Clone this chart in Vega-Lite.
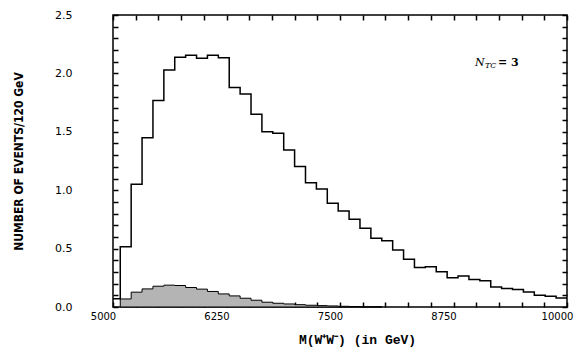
{
  "$schema": "https://vega.github.io/schema/vega-lite/v6.json",
  "width": 454,
  "height": 292,
  "autosize": {"type": "none"},
  "padding": {"left": 113, "top": 15, "right": 12, "bottom": 49},
  "background": "white",
  "config": {
    "view": {"stroke": "black", "strokeWidth": 1.5},
    "axis": {"domain": false, "grid": false, "ticks": true, "tickColor": "black", "tickOpacity": 1, "tickWidth": 1.5, "labelColor": "black", "titleColor": "black", "labelFlush": false, "zindex": 2}
  },
  "datasets": {
    "main": [
      {"m": 5000, "n": 0.07},
      {"m": 5080, "n": 0.516},
      {"m": 5200, "n": 1.051},
      {"m": 5320, "n": 1.45},
      {"m": 5440, "n": 1.767},
      {"m": 5560, "n": 2.029},
      {"m": 5680, "n": 2.138},
      {"m": 5800, "n": 2.155},
      {"m": 5920, "n": 2.129},
      {"m": 6040, "n": 2.155},
      {"m": 6160, "n": 2.135},
      {"m": 6280, "n": 1.88},
      {"m": 6400, "n": 1.824},
      {"m": 6520, "n": 1.65},
      {"m": 6640, "n": 1.501},
      {"m": 6760, "n": 1.488},
      {"m": 6880, "n": 1.345},
      {"m": 7000, "n": 1.202},
      {"m": 7120, "n": 1.064},
      {"m": 7240, "n": 1.011},
      {"m": 7360, "n": 0.889},
      {"m": 7480, "n": 0.822},
      {"m": 7600, "n": 0.751},
      {"m": 7720, "n": 0.674},
      {"m": 7840, "n": 0.588},
      {"m": 7960, "n": 0.568},
      {"m": 8080, "n": 0.489},
      {"m": 8200, "n": 0.408},
      {"m": 8320, "n": 0.339},
      {"m": 8440, "n": 0.345},
      {"m": 8560, "n": 0.302},
      {"m": 8680, "n": 0.25},
      {"m": 8800, "n": 0.265},
      {"m": 8920, "n": 0.236},
      {"m": 9040, "n": 0.224},
      {"m": 9160, "n": 0.172},
      {"m": 9280, "n": 0.158},
      {"m": 9400, "n": 0.15},
      {"m": 9520, "n": 0.129},
      {"m": 9640, "n": 0.101},
      {"m": 9760, "n": 0.092},
      {"m": 9880, "n": 0.078},
      {"m": 10000, "n": 0.078}
    ],
    "shade": [
      {"m": 5080, "n": 0.069},
      {"m": 5200, "n": 0.127},
      {"m": 5320, "n": 0.155},
      {"m": 5440, "n": 0.178},
      {"m": 5560, "n": 0.187},
      {"m": 5680, "n": 0.184},
      {"m": 5800, "n": 0.167},
      {"m": 5920, "n": 0.153},
      {"m": 6040, "n": 0.133},
      {"m": 6160, "n": 0.112},
      {"m": 6280, "n": 0.095},
      {"m": 6400, "n": 0.075},
      {"m": 6520, "n": 0.058},
      {"m": 6640, "n": 0.041},
      {"m": 6760, "n": 0.032},
      {"m": 6880, "n": 0.026},
      {"m": 7000, "n": 0.02},
      {"m": 7120, "n": 0.015},
      {"m": 7240, "n": 0.012},
      {"m": 7360, "n": 0.009},
      {"m": 7480, "n": 0.006},
      {"m": 7600, "n": 0.004},
      {"m": 7720, "n": 0.002},
      {"m": 7840, "n": 0.001},
      {"m": 7960, "n": 0}
    ],
    "note": [{"x": 8987, "y": 2.063}]
  },
  "resolve": {
    "scale": {"x": "independent", "y": "independent"},
    "axis": {"x": "independent", "y": "independent"}
  },
  "layer": [
    {
      "data": {"name": "shade"},
      "mark": {"type": "area", "interpolate": "step-after", "fill": "#b4b4b4", "stroke": "black", "strokeWidth": 1},
      "encoding": {
        "x": {
          "field": "m", "type": "quantitative",
          "scale": {"domain": [5000, 10000], "nice": false, "zero": false},
          "axis": {
            "orient": "bottom", "values": [5000, 5250, 5500, 5750, 6000, 6250, 6500, 6750, 7000, 7250, 7500, 7750, 8000, 8250, 8500, 8750, 9000, 9250, 9500, 9750, 10000],
            "offset": -5, "tickSize": 5,
            "labelExpr": "datum.value % 1250 === 0 ? format(datum.value, 'd') : ''",
            "labelFont": "DejaVu Sans", "labelFontSize": 10, "labelPadding": 4.5, "labelOffset": -10,
            "title": "M(W⁺W⁻) (in GeV)", "titleFont": "Liberation Mono", "titleFontWeight": "bold", "titleFontSize": 13,
            "titleX": 244, "titleY": 41, "titleBaseline": "alphabetic", "titleAnchor": "middle"
          }
        },
        "y": {
          "field": "n", "type": "quantitative",
          "scale": {"domain": [0, 2.5], "nice": false, "zero": true},
          "axis": {
            "orient": "left", "values": [0, 0.1, 0.2, 0.3, 0.4, 0.5, 0.6, 0.7, 0.8, 0.9, 1, 1.1, 1.2, 1.3, 1.4, 1.5, 1.6, 1.7, 1.8, 1.9, 2, 2.1, 2.2, 2.3, 2.4, 2.5],
            "offset": -5, "tickSize": 5,
            "labelExpr": "abs(datum.value * 2 - round(datum.value * 2)) < 0.001 ? format(datum.value, '.1f') : ''",
            "labelFont": "DejaVu Sans", "labelFontSize": 11, "labelPadding": 41,
            "title": "NUMBER OF EVENTS/120 GeV", "titleFont": "DejaVu Sans Condensed, Liberation Sans", "titleFontWeight": "bold", "titleFontSize": 12,
            "titleX": -100, "titleY": 146, "titleAngle": -90, "titleBaseline": "middle", "titleAlign": "center"
          }
        }
      }
    },
    {
      "data": {"name": "main"},
      "mark": {"type": "line", "interpolate": "step-after", "stroke": "black", "strokeWidth": 1.5},
      "encoding": {
        "x": {
          "field": "m", "type": "quantitative",
          "scale": {"domain": [5000, 10000], "nice": false, "zero": false},
          "axis": {"orient": "top", "values": [5000, 5250, 5500, 5750, 6000, 6250, 6500, 6750, 7000, 7250, 7500, 7750, 8000, 8250, 8500, 8750, 9000, 9250, 9500, 9750, 10000], "offset": -5, "tickSize": 5, "labels": false, "title": null}
        },
        "y": {
          "field": "n", "type": "quantitative",
          "scale": {"domain": [0, 2.5], "nice": false, "zero": true},
          "axis": {"orient": "right", "values": [0, 0.1, 0.2, 0.3, 0.4, 0.5, 0.6, 0.7, 0.8, 0.9, 1, 1.1, 1.2, 1.3, 1.4, 1.5, 1.6, 1.7, 1.8, 1.9, 2, 2.1, 2.2, 2.3, 2.4, 2.5], "offset": -5, "tickSize": 5, "labels": false, "title": null}
        }
      }
    },
    {
      "data": {"name": "note"},
      "mark": {"type": "text", "text": "N", "font": "DejaVu Serif", "fontStyle": "italic", "fontSize": 11, "align": "left", "baseline": "alphabetic"},
      "encoding": {
        "x": {"field": "x", "type": "quantitative", "scale": {"domain": [5000, 10000], "nice": false, "zero": false}, "axis": null},
        "y": {"field": "y", "type": "quantitative", "scale": {"domain": [0, 2.5], "nice": false, "zero": true}, "axis": null}
      }
    },
    {
      "data": {"name": "note"},
      "mark": {"type": "text", "text": "TC", "font": "DejaVu Serif", "fontStyle": "italic", "fontSize": 8, "align": "left", "baseline": "alphabetic", "dx": 10, "dy": 2},
      "encoding": {
        "x": {"field": "x", "type": "quantitative", "scale": {"domain": [5000, 10000], "nice": false, "zero": false}, "axis": null},
        "y": {"field": "y", "type": "quantitative", "scale": {"domain": [0, 2.5], "nice": false, "zero": true}, "axis": null}
      }
    },
    {
      "data": {"name": "note"},
      "mark": {"type": "text", "text": "= 3", "font": "DejaVu Serif", "fontSize": 11, "fontWeight": "bold", "align": "left", "baseline": "alphabetic", "dx": 23},
      "encoding": {
        "x": {"field": "x", "type": "quantitative", "scale": {"domain": [5000, 10000], "nice": false, "zero": false}, "axis": null},
        "y": {"field": "y", "type": "quantitative", "scale": {"domain": [0, 2.5], "nice": false, "zero": true}, "axis": null}
      }
    }
  ]
}
